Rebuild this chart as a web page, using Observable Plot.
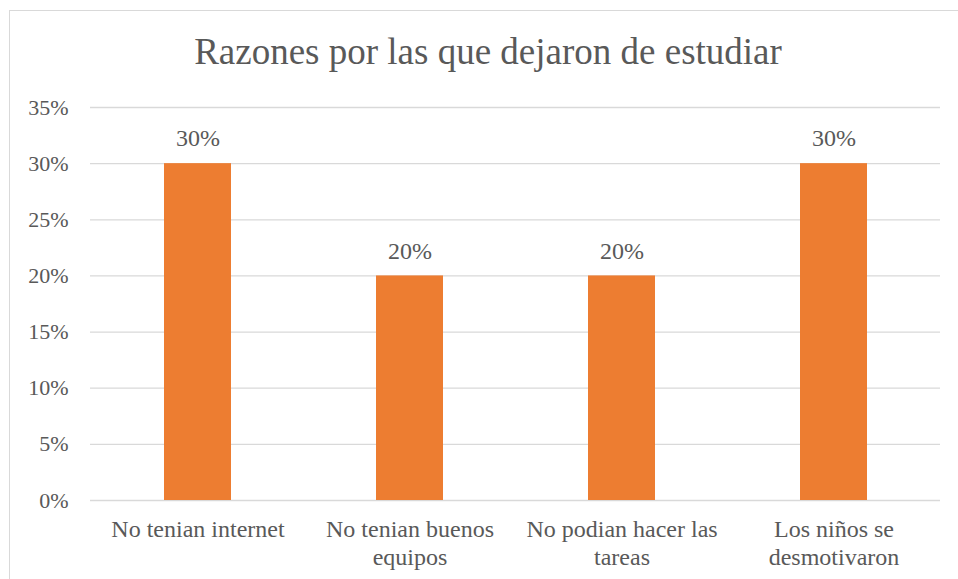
<!DOCTYPE html>
<html>
<head>
<meta charset="utf-8">
<script src="https://cdn.jsdelivr.net/npm/d3@7"></script>
<script src="https://cdn.jsdelivr.net/npm/@observablehq/plot@0.6"></script>
<style>
  html, body { margin: 0; padding: 0; background: #fff; overflow: hidden; }
  #frame { position: absolute; left: 9px; top: 10px; width: 980px; height: 600px; border: 1.5px solid #d9d9d9; box-sizing: border-box; pointer-events: none; }
  #title { position: absolute; left: 0; top: 33px; width: 976px; text-align: center; font-family: "Liberation Serif", "Nimbus Roman", "Nimbus Roman No9 L", "FreeSerif", "Noto Serif", "DejaVu Serif", Georgia, serif; font-size: 37px; line-height: 37px; color: #595959; }
  #chart { position: absolute; left: 0; top: 95px; }
  #chart svg text { font-family: "Liberation Serif", "Nimbus Roman", "Nimbus Roman No9 L", "FreeSerif", "Noto Serif", "DejaVu Serif", Georgia, serif; }
</style>
</head>
<body>
<div id="frame"></div>
<div id="title">Razones por las que dejaron de estudiar</div>
<div id="chart"></div>
<script>
const categories = ["No tenian internet", "No tenian buenos equipos", "No podian hacer las tareas", "Los niños se desmotivaron"];
const tickLabels = ["No tenian internet", "No tenian buenos\nequipos", "No podian hacer las\ntareas", "Los niños se\ndesmotivaron"];
const values = [0.30, 0.20, 0.20, 0.30];
const yTicks = [0, 0.05, 0.10, 0.15, 0.20, 0.25, 0.30, 0.35];

const data = categories.map((c, i) => ({category: c, value: values[i]}));
const labelOf = new Map(categories.map((c, i) => [c, tickLabels[i]]));
const pct = d3.format(".0%");

const chart = Plot.plot({
  width: 958,
  height: 484,
  marginTop: 12,
  marginBottom: 79,
  marginLeft: 90,
  marginRight: 18,
  style: { color: "#595959", background: "transparent" },
  x: { domain: categories, paddingInner: 0.685, paddingOuter: 0.3425 },
  y: { domain: [0, 0.35] },
  marks: [
    Plot.gridY(yTicks, { stroke: "#d9d9d9", strokeOpacity: 1, strokeWidth: 1.3 }),
    Plot.barY(data, { x: "category", y: "value", fill: "#ED7D31" }),
    Plot.text(data, { x: "category", y: "value", text: d => pct(d.value), dy: -25, fontSize: 24, fill: "#595959" }),
    Plot.axisY(yTicks, { tickSize: 0, tickPadding: 22, tickFormat: pct, fontSize: 22, fill: "#595959", label: null }),
    Plot.axisX({ tickSize: 0, tickPadding: 17, tickFormat: d => labelOf.get(d), fontSize: 24, lineHeight: 1.15, fill: "#595959", label: null })
  ]
});
document.getElementById("chart").appendChild(chart);
</script>
</body>
</html>
